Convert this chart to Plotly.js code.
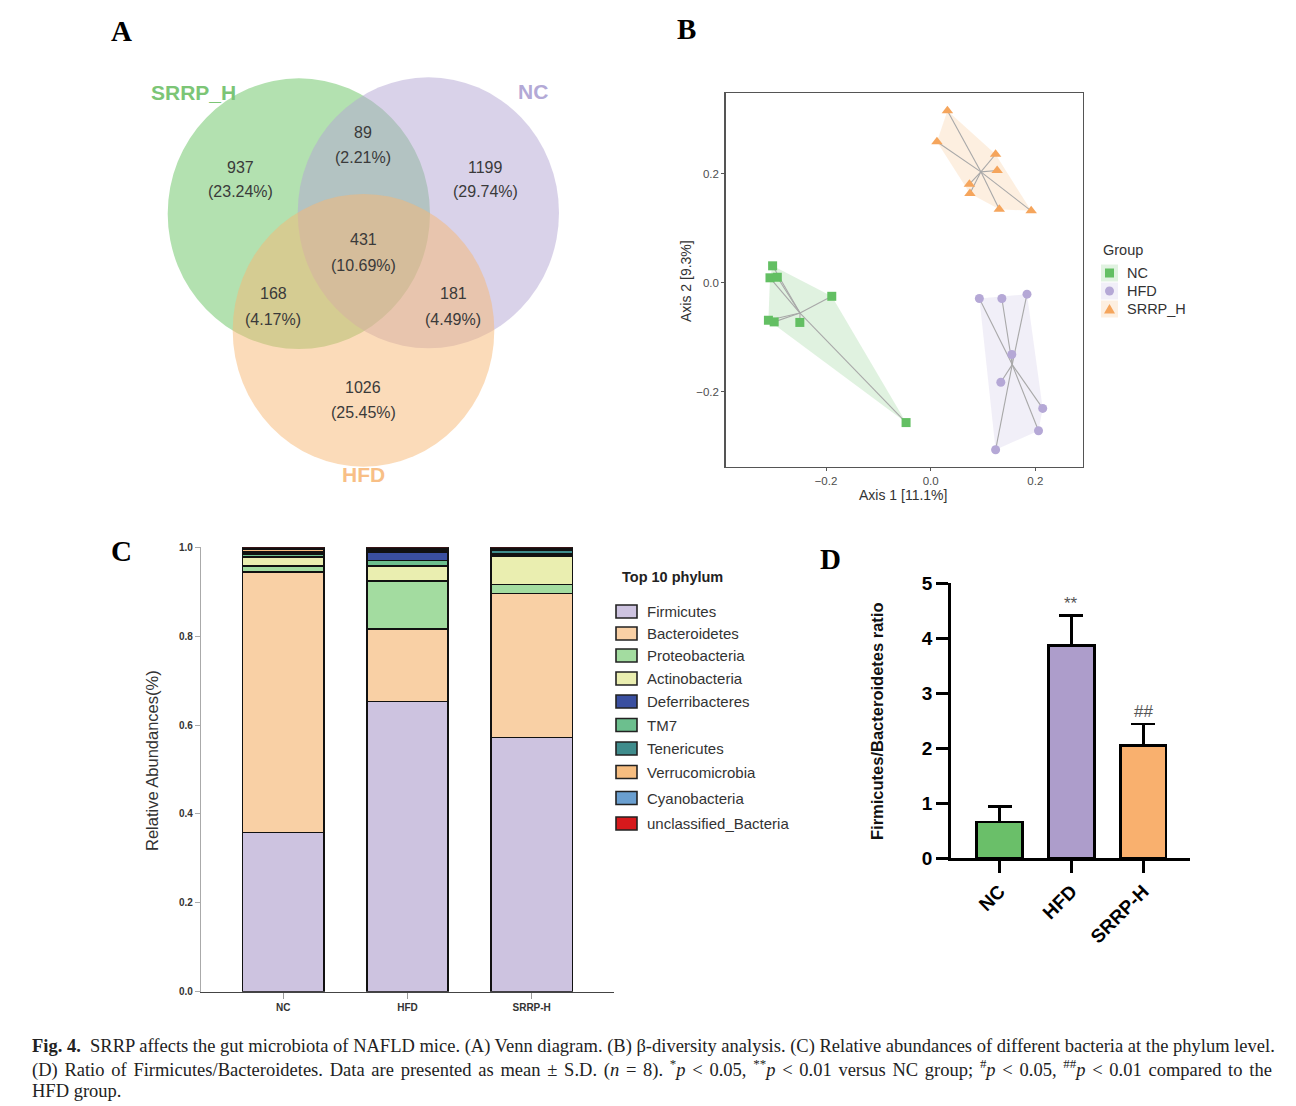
<!DOCTYPE html>
<html><head><meta charset="utf-8">
<script src="https://cdn.plot.ly/plotly-3.0.1.min.js"></script>
<style>html,body{margin:0;padding:0;background:#fff}</style>
</head><body><div id="chart" style="width:1296px;height:1106px"></div>
<script>
// ---------------- DATA ----------------
// Panel A: Venn
const vennSets = ['SRRP_H', 'NC', 'HFD'];
const vennRegions = ['SRRP_H only', 'SRRP_H & NC', 'NC only', 'All three', 'SRRP_H & HFD', 'NC & HFD', 'HFD only'];
const vennCounts = [937, 89, 1199, 431, 168, 181, 1026];
// Panel B: PCoA
const ncX = [-0.302, -0.307, -0.293, -0.310, -0.299, -0.250, -0.189, -0.047];
const ncY = [0.031, 0.009, 0.010, -0.069, -0.072, -0.073, -0.025, -0.257];
const hfdX = [0.093, 0.136, 0.184, 0.155, 0.134, 0.214, 0.206, 0.124];
const hfdY = [-0.029, -0.029, -0.021, -0.132, -0.183, -0.231, -0.272, -0.307];
const srrpX = [0.032, 0.012, 0.124, 0.127, 0.074, 0.075, 0.131, 0.192];
const srrpY = [0.316, 0.259, 0.236, 0.206, 0.181, 0.164, 0.135, 0.132];
const pcoaGroups = ['NC', 'HFD', 'SRRP_H'];
const pcoaTicks = [-0.2, 0.0, 0.2];
// Panel C: relative abundance
const groupsC = ['NC', 'HFD', 'SRRP-H'];
const phyla = ['Firmicutes', 'Bacteroidetes', 'Proteobacteria', 'Actinobacteria', 'Deferribacteres', 'TM7', 'Tenericutes', 'Verrucomicrobia', 'Cyanobacteria', 'unclassified_Bacteria'];
const abundNC   = [0.358, 0.586, 0.014, 0.020, 0.002, 0.006, 0.004, 0.006, 0.002, 0.002];
const abundHFD  = [0.653, 0.163, 0.108, 0.034, 0.018, 0.012, 0.003, 0.004, 0.003, 0.002];
const abundSRRP = [0.572, 0.324, 0.020, 0.063, 0.003, 0.004, 0.007, 0.003, 0.002, 0.002];
const abundTicks = [0, 0.2, 0.4, 0.6, 0.8, 1.0];
// Panel D: F/B ratio
const groupsD = ['NC', 'HFD', 'SRRP-H'];
const ratioMean = [0.66, 3.87, 2.05];
const ratioSD = [0.28, 0.54, 0.39];
const ratioSig = ['', '**', '##'];

// ---------------- STYLE / LAYOUT ----------------
const W = 1296, H = 1106;
const X = p => p / W, Y = p => 1 - p / H;
const SANS = 'Liberation Sans, Arial, sans-serif';
const SERIF = 'Liberation Serif, Times New Roman, serif';

const vennColors = ['rgb(104,195,97)', 'rgb(180,166,212)', 'rgb(248,184,115)'];
const vennLabelColors = ['#7cc576', '#b3a9d6', '#f8bf86'];
const vennBoxes = [[167.7, 78.3, 430, 349], [297.7, 77.3, 559, 348.3], [232.7, 194, 494.3, 466.7]];
const vennLabelPos = [[193, 92], [533, 91], [363, 475]];
const vennTextPos = [[240, 167], [363, 133], [485, 167], [363, 240], [273, 294], [453, 294], [363, 387]];

const pcoaColors = ['#63bf63', '#b5a8d6', '#f5a55c'];
const pcoaFill = ['rgba(99,191,99,0.2)', 'rgba(175,168,215,0.18)', 'rgba(245,175,100,0.2)'];
const pcoaSymbols = ['square', 'circle', 'triangle-up'];
const pcoaSizes = [9, 9, 10];

const phylaColors = ['#cdc3e0', '#f9d0a5', '#a3dca0', '#eaeeb0', '#3a4fa0', '#6cbf8e', '#3f8c8c', '#f6bd80', '#6a9fd0', '#d7191c'];
const stackOrder = [0, 1, 2, 3, 5, 4, 6, 7, 8, 9];
const ratioColors = ['#6abf69', '#ad9dcb', '#f9b06e'];

// ---------------- HELPERS ----------------
function hull(xs, ys) {
  const pts = xs.map((x, i) => [x, ys[i]]).sort((a, b) => a[0] - b[0] || a[1] - b[1]);
  const cross = (o, a, b) => (a[0] - o[0]) * (b[1] - o[1]) - (a[1] - o[1]) * (b[0] - o[0]);
  const lower = [], upper = [];
  for (const p of pts) { while (lower.length >= 2 && cross(lower[lower.length - 2], lower[lower.length - 1], p) <= 0) lower.pop(); lower.push(p); }
  for (let i = pts.length - 1; i >= 0; i--) { const p = pts[i]; while (upper.length >= 2 && cross(upper[upper.length - 2], upper[upper.length - 1], p) <= 0) upper.pop(); upper.push(p); }
  const h = lower.slice(0, -1).concat(upper.slice(0, -1)); h.push(h[0]);
  return { x: h.map(p => p[0]), y: h.map(p => p[1]) };
}
function ann(text, x, y, font, extra) {
  return Object.assign({ text: text, xref: 'paper', yref: 'paper', x: X(x), y: Y(y), showarrow: false,
    xanchor: 'center', yanchor: 'middle', font: Object.assign({ family: SANS, size: 14, color: '#333' }, font) }, extra || {});
}
function rect(x0, y0, x1, y1, fill, line, extra) {
  return Object.assign({ type: 'rect', xref: 'paper', yref: 'paper', x0: X(x0), x1: X(x1), y0: Y(y1), y1: Y(y0),
    fillcolor: fill, line: line || { width: 0 } }, extra || {});
}

const traces = [];
const shapes = [];
const annotations = [];

// ---- Panel A: Venn ----
vennBoxes.forEach((b, i) => {
  shapes.push({ type: 'circle', xref: 'paper', yref: 'paper', x0: X(b[0]), x1: X(b[2]), y0: Y(b[3]), y1: Y(b[1]),
    fillcolor: vennColors[i], opacity: 0.5, line: { width: 0 }, layer: 'below' });
});
vennSets.forEach((s, i) => annotations.push(ann(s, vennLabelPos[i][0], vennLabelPos[i][1], { size: 21, color: vennLabelColors[i], weight: 'bold' })));
const vennTotal = vennCounts.reduce((a, b) => a + b, 0);
vennCounts.forEach((c, i) => {
  const [x, y] = vennTextPos[i];
  annotations.push(ann(String(c), x, y, { size: 16, color: '#3a3a3a' }));
  annotations.push(ann('(' + (100 * c / vennTotal).toFixed(2) + '%)', x, y + 25, { size: 16, color: '#3a3a3a' }));
});

// ---- Panel B: PCoA ----
const pX = [ncX, hfdX, srrpX], pY = [ncY, hfdY, srrpY];
pcoaGroups.forEach((g, i) => {
  const h = hull(pX[i], pY[i]);
  traces.push({ type: 'scatter', mode: 'lines', x: h.x, y: h.y, fill: 'toself', fillcolor: pcoaFill[i],
    line: { width: 0 }, xaxis: 'x', yaxis: 'y', showlegend: false, hoverinfo: 'skip' });
});
pcoaGroups.forEach((g, i) => {
  const cx = pX[i].reduce((a, b) => a + b, 0) / pX[i].length;
  const cy = pY[i].reduce((a, b) => a + b, 0) / pY[i].length;
  const sx = [], sy = [];
  pX[i].forEach((x, j) => { sx.push(x, cx, null); sy.push(pY[i][j], cy, null); });
  traces.push({ type: 'scatter', mode: 'lines', x: sx, y: sy, line: { color: '#a8a8a8', width: 1.1 },
    xaxis: 'x', yaxis: 'y', showlegend: false, hoverinfo: 'skip' });
});
pcoaGroups.forEach((g, i) => {
  traces.push({ type: 'scatter', mode: 'markers', name: g, x: pX[i], y: pY[i],
    marker: { symbol: pcoaSymbols[i], size: pcoaSizes[i], color: pcoaColors[i] }, xaxis: 'x', yaxis: 'y', showlegend: false });
});
// legend B (manual)
annotations.push(ann('Group', 1101, 250, { size: 14.5, color: '#333' }, { xanchor: 'left' }));
const legBY = [273, 291, 309];
pcoaGroups.forEach((g, i) => {
  const cy = legBY[i], cx = 1109.5;
  shapes.push(rect(cx - 8.5, cy - 8.5, cx + 8.5, cy + 8.5, pcoaFill[i]));
  if (i === 0) shapes.push(rect(cx - 4.5, cy - 4.5, cx + 4.5, cy + 4.5, pcoaColors[i]));
  else if (i === 1) shapes.push({ type: 'circle', xref: 'paper', yref: 'paper', x0: X(cx - 4.5), x1: X(cx + 4.5), y0: Y(cy + 4.5), y1: Y(cy - 4.5), fillcolor: pcoaColors[i], line: { width: 0 } });
  else shapes.push({ type: 'path', xref: 'paper', yref: 'paper', fillcolor: pcoaColors[i], line: { width: 0 },
    path: 'M' + X(cx) + ',' + Y(cy - 5) + ' L' + X(cx + 5.5) + ',' + Y(cy + 4.5) + ' L' + X(cx - 5.5) + ',' + Y(cy + 4.5) + ' Z' });
  annotations.push(ann(g, 1125, cy, { size: 14.5, color: '#333' }, { xanchor: 'left' }));
});
annotations.push(ann('Axis 1 [11.1%]', 903, 495, { size: 14, color: '#333' }));
annotations.push(ann('Axis 2 [9.3%]', 686, 281, { size: 14, color: '#333' }, { textangle: -90 }));

// ---- Panel C: stacked bars ----
const abund = [abundNC, abundHFD, abundSRRP];
stackOrder.forEach(k => {
  traces.push({ type: 'bar', name: phyla[k], x: groupsC, y: abund.map(a => a[k]), width: 0.656,
    marker: { color: phylaColors[k], line: { color: '#111', width: 1.7 } }, xaxis: 'x2', yaxis: 'y2', showlegend: false });
});
annotations.push(ann('Relative Abundances(%)', 152, 761, { size: 16.5, color: '#333' }, { textangle: -90 }));
annotations.push(ann('Top 10 phylum', 620, 577, { size: 14.5, color: '#222', weight: 'bold' }, { xanchor: 'left' }));
const legCY = [611.5, 633.5, 655.5, 678.5, 701.5, 725, 748.5, 772, 798, 823.5];
phyla.forEach((p, k) => {
  const cy = legCY[k];
  shapes.push(rect(616, cy - 6.5, 637, cy + 6.5, phylaColors[k], { color: '#222', width: 1.6 }));
  annotations.push(ann(p, 645, cy, { size: 15, color: '#333' }, { xanchor: 'left' }));
});

// ---- Panel D: ratio bars ----
traces.push({ type: 'bar', x: groupsD, y: ratioMean, width: 0.634,
  marker: { color: ratioColors, line: { color: '#000', width: 2.6 } },
  error_y: { type: 'data', array: ratioSD, arrayminus: ratioSD.map(() => 0), symmetric: false, color: '#000', thickness: 2.5, width: 12 },
  xaxis: 'x3', yaxis: 'y3', showlegend: false });
groupsD.forEach((g, i) => {
  if (ratioSig[i]) annotations.push({ text: ratioSig[i], xref: 'x3', yref: 'y3', x: g, y: ratioMean[i] + ratioSD[i],
    yanchor: 'bottom', yshift: 1, showarrow: false, font: { family: SANS, size: 17, color: '#555' } });
});
annotations.push(ann('Firmicutes/Bacteroidetes ratio', 877, 721, { size: 16.5, color: '#111', weight: 'bold' }, { textangle: -90 }));

// ---- Panel letters ----
[['A', 121, 31], ['B', 686, 29], ['C', 121, 551], ['D', 830, 559]].forEach(l =>
  annotations.push(ann(l[0], l[1], l[2], { family: SERIF, size: 29, color: '#000', weight: 'bold' })));

// ---- Caption ----
const cap = [
  '<b>Fig. 4.</b>  SRRP affects the gut microbiota of NAFLD mice. (A) Venn diagram. (B) β-diversity analysis. (C) Relative abundances of different bacteria at the phylum level.',
  '(D) Ratio of Firmicutes/Bacteroidetes. Data are presented as mean ± S.D. (<i>n</i> = 8). <sup>*</sup><i>p</i> &lt; 0.05, <sup>**</sup><i>p</i> &lt; 0.01 versus NC group; <sup>#</sup><i>p</i> &lt; 0.05, <sup>##</sup><i>p</i> &lt; 0.01 compared to the',
  'HFD group.'
];
[1046, 1068, 1091].forEach((y, i) => annotations.push(ann(cap[i], 30, y, { family: SERIF, size: 18.5, color: '#222' }, { xanchor: 'left', align: 'left' })));

const layout = {
  width: W, height: H, margin: { l: 0, r: 0, t: 0, b: 0 }, paper_bgcolor: '#fff', plot_bgcolor: 'rgba(0,0,0,0)',
  showlegend: false, barmode: 'stack', font: { family: SANS },
  xaxis: { domain: [X(725.5), X(1083)], range: [-0.392, 0.291], anchor: 'y', showline: true, mirror: true, linecolor: '#555', linewidth: 1.3,
    ticks: 'outside', ticklen: 3, tickcolor: '#555', tickvals: pcoaTicks, ticktext: pcoaTicks.map(v => v < 0 ? '−' + Math.abs(v).toFixed(1) : v.toFixed(1)),
    tickfont: { size: 11.5, color: '#4d4d4d' }, showgrid: false, zeroline: false },
  yaxis: { domain: [Y(467), Y(93)], range: [-0.3386, 0.3485], anchor: 'x', showline: true, mirror: true, linecolor: '#555', linewidth: 1.3,
    ticks: 'outside', ticklen: 3, tickcolor: '#555', tickvals: pcoaTicks, ticktext: pcoaTicks.map(v => v < 0 ? '−' + Math.abs(v).toFixed(1) : v.toFixed(1)),
    tickfont: { size: 11.5, color: '#4d4d4d' }, showgrid: false, zeroline: false },
  xaxis2: { domain: [X(201), X(614)], range: [-0.663, 2.663], anchor: 'y2', type: 'category', showline: true, linecolor: '#444', linewidth: 1.2,
    ticks: 'outside', ticklen: 6, tickcolor: '#999', tickfont: { size: 10, color: '#333', weight: 'bold' }, showgrid: false, zeroline: false },
  yaxis2: { domain: [Y(991.7), Y(547.3)], range: [0, 1], anchor: 'x2', tickvals: abundTicks, tickformat: '.1f', showline: true, linecolor: '#aaa', linewidth: 1.2,
    ticks: 'outside', ticklen: 5, tickcolor: '#aaa', tickfont: { size: 10, color: '#333', weight: 'bold' }, showgrid: false, zeroline: false },
  xaxis3: { domain: [X(950.7), X(1190)], range: [-0.68, 2.65], anchor: 'y3', type: 'category', showline: true, linecolor: '#000', linewidth: 2.6,
    ticks: 'outside', ticklen: 12, tickwidth: 2.6, tickcolor: '#000', tickangle: -45, tickfont: { size: 19, color: '#000', weight: 'bold' }, showgrid: false, zeroline: false },
  yaxis3: { domain: [Y(858.3), Y(583.3)], range: [0, 5], anchor: 'x3', dtick: 1, showline: true, linecolor: '#000', linewidth: 2.6,
    ticks: 'outside', ticklen: 12, tickwidth: 2.6, tickcolor: '#000', tickfont: { size: 19, color: '#000', weight: 'bold' }, showgrid: false, zeroline: false },
  shapes: shapes, annotations: annotations
};
Plotly.newPlot('chart', traces, layout, { staticPlot: true, displayModeBar: false }).then(function () {
  // justify the first two caption lines to the full text width, as in the printed figure
  try {
    const target = 1240;
    document.querySelectorAll('#chart .annotation-text').forEach(function (t) {
      const s = t.textContent || '';
      if (s.indexOf('Fig. 4.') === 0 || s.indexOf('(D) Ratio') === 0) {
        const w = t.getBBox().width;
        const n = (s.match(/ /g) || []).length;
        if (n > 0 && w < target) t.setAttribute('word-spacing', ((target - w) / n).toFixed(2));
      }
    });
  } catch (e) {}
});
</script></body></html>
